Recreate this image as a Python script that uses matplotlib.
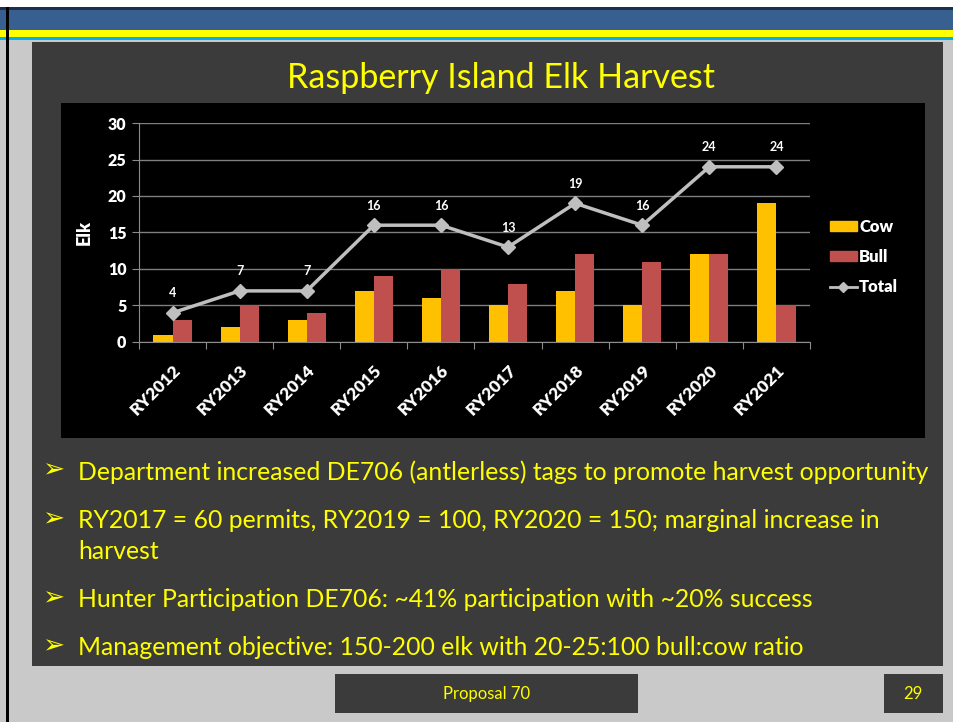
import matplotlib
matplotlib.use('Agg')
import matplotlib.pyplot as plt
from matplotlib.patches import Rectangle, Patch
from matplotlib.lines import Line2D

W, H = 954, 722

years = ['RY2012', 'RY2013', 'RY2014', 'RY2015', 'RY2016',
         'RY2017', 'RY2018', 'RY2019', 'RY2020', 'RY2021']
cow = [1, 2, 3, 7, 6, 5, 7, 5, 12, 19]
bull = [3, 5, 4, 9, 10, 8, 12, 11, 12, 5]
total = [4, 7, 7, 16, 16, 13, 19, 16, 24, 24]

title = 'Raspberry Island Elk Harvest'
bullets = ['Department increased DE706 (antlerless) tags to promote harvest opportunity',
           'RY2017 = 60 permits, RY2019 = 100, RY2020 = 150; marginal increase in\nharvest',
           'Hunter Participation DE706: ~41% participation with ~20% success',
           'Management objective: 150-200 elk with 20-25:100 bull:cow ratio']
footer = 'Proposal 70'
page = '29'

COW = '#FFC000'
BULL = '#C0504D'
LINE = '#BFBFBF'
YEL = '#FFFF00'
PANEL = '#3B3B3B'
FONT = ['Lato', 'DejaVu Sans']


def box(x, y, w, h):
    # pixel box (top-left origin) -> figure fraction
    return [x / W, 1 - (y + h) / H, w / W, h / H]


def rect(x, y, w, h, color, z=0):
    fig.patches.append(Rectangle((x / W, 1 - (y + h) / H), w / W, h / H,
                                 transform=fig.transFigure, color=color, zorder=z, lw=0))


def ftext(x, y, s, **kw):
    fig.text(x / W, 1 - y / H, s, **kw)


fig = plt.figure(figsize=(W / 100, H / 100), dpi=100)
fig.patch.set_facecolor('#C9C9C9')

# slide frame
rect(0, 0, W, 7, 'white')
rect(0, 7, W, 3, '#1F2F4A')
rect(0, 10, W, 20, '#375F8F')
rect(0, 30, W, 7, YEL)
rect(0, 37, W, 3, '#00B0F0')
rect(6, 7, 3, H - 7, 'black')
rect(32, 42, 911, 624, PANEL)
rect(335, 674, 303, 39, PANEL)
rect(884, 674, 59, 39, PANEL)
rect(61, 103, 864, 335, 'black')

ftext(501, 78, title, color=YEL, fontsize=24.5, ha='center', va='center', family=FONT)

# bullets
ys = [469, 518, 597, 645]
for y, b in zip(ys, bullets):
    ftext(53, y + 1, '\u27A2', color=YEL, fontsize=19, ha='center', va='center',
          family=['DejaVu Sans'])
    ftext(78, y - 9, b, color=YEL, fontsize=17.8, ha='left', va='top', family=FONT,
          linespacing=1.42)

ftext(487, 694, footer, color=YEL, fontsize=12, ha='center', va='center', family=FONT)
ftext(913, 694, page, color=YEL, fontsize=12, ha='center', va='center', family=FONT)

# chart
ax = fig.add_axes(box(139, 123, 671, 219))
ax.set_zorder(5)
ax.set_facecolor('black')
x = list(range(len(years)))
bw = 0.285
ax.bar([i - bw / 2 for i in x], cow, bw, color=COW, zorder=2)
ax.bar([i + bw / 2 for i in x], bull, bw, color=BULL, zorder=2)
ax.plot(x, total, color=LINE, lw=2.5, marker='D', markersize=7, zorder=3)
for i, t in zip(x, total):
    ax.annotate(str(t), (i, t), xytext=(0, 14), textcoords='offset points',
                ha='center', va='center', color='white', fontsize=9,
                fontweight='bold', family=FONT)

ax.set_xlim(-0.5, len(years) - 0.5)
ax.set_ylim(0, 30)
ax.set_yticks(range(0, 31, 5))
ax.grid(axis='y', color='#7F7F7F', lw=1, zorder=0)
for s in ['top', 'right']:
    ax.spines[s].set_visible(False)
for s in ['left', 'bottom']:
    ax.spines[s].set_color('#8C8C8C')
ax.set_xticks([i - 0.5 for i in range(len(years) + 1)], minor=False)
ax.set_xticklabels([])
ax.set_xticks(x, minor=True)
ax.set_xticklabels(years, minor=True, rotation=45, ha='right', rotation_mode='anchor',
                   color='white', fontsize=12.5, fontweight='heavy', family=FONT)
ax.tick_params(axis='x', which='major', length=5, color='#8C8C8C', direction='out')
ax.tick_params(axis='x', which='minor', length=0, pad=14)
ax.tick_params(axis='y', length=5, color='#8C8C8C', labelcolor='white', labelsize=11.5, pad=4)
for lab in ax.get_yticklabels():
    lab.set_family(FONT)
    lab.set_fontweight('heavy')
ax.set_ylabel('Elk', color='white', fontsize=13, fontweight='heavy', family=FONT)
ax.yaxis.set_label_coords(-0.069, 0.5)

handles = [Patch(color=COW), Patch(color=BULL),
           Line2D([], [], color=LINE, lw=2, marker='D', markersize=5)]
leg = fig.legend(handles, ['Cow', 'Bull', 'Total'], loc='center left',
                 bbox_to_anchor=(830 / W, 1 - 257 / H), frameon=False,
                 borderpad=0, borderaxespad=0,
                 labelspacing=0.85, handlelength=1.6, handleheight=0.6, handletextpad=0.15,
                 prop={'family': FONT, 'weight': 'heavy', 'size': 12})
for t in leg.get_texts():
    t.set_color('white')

fig.savefig('out.png', dpi=100, facecolor=fig.get_facecolor())
